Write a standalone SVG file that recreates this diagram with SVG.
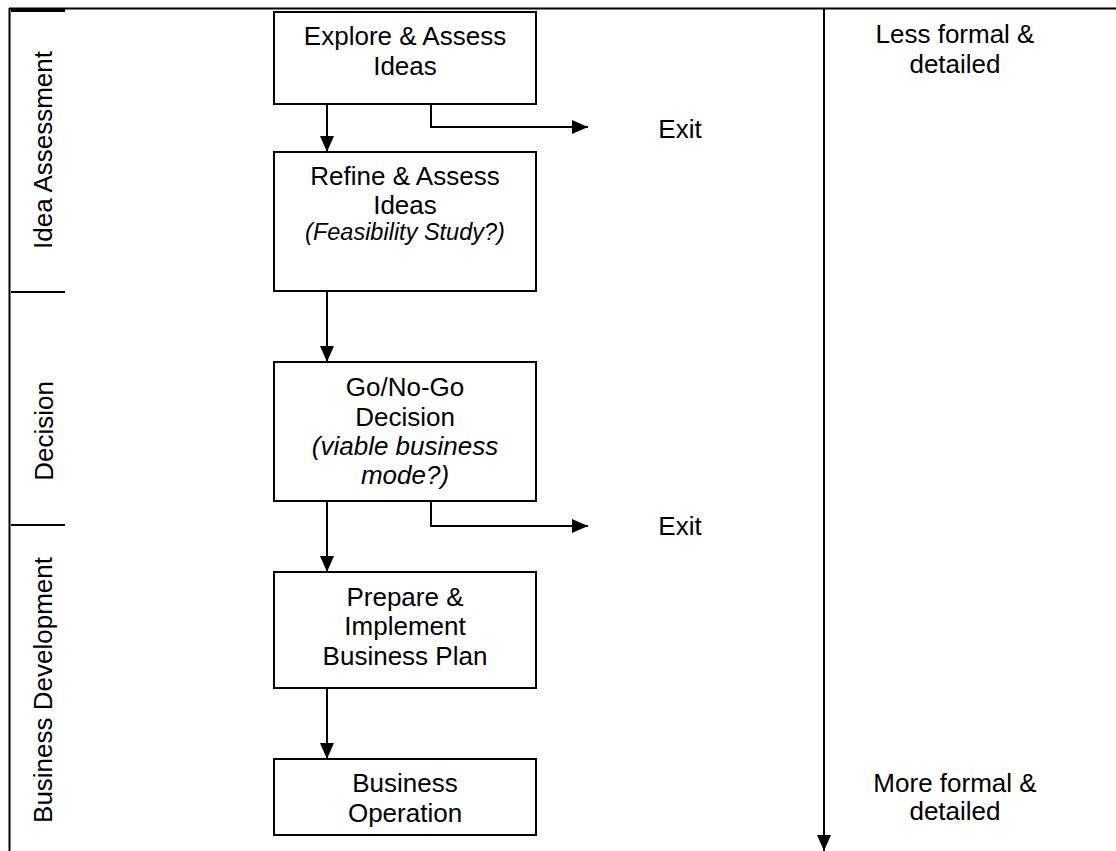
<svg xmlns="http://www.w3.org/2000/svg" width="1116" height="851" viewBox="0 0 1116 851">
<style>
.t{font-family:"Liberation Sans",Arial,sans-serif;font-size:26px;fill:#000;text-anchor:middle}
.i{font-style:italic}
.box{fill:#fff;stroke:#000;stroke-width:2}
.ln{stroke:#000;stroke-width:2;fill:none}
</style>
<defs>
<marker id="ah" viewBox="0 0 16 14" refX="16" refY="7" markerWidth="16" markerHeight="14" markerUnits="userSpaceOnUse" orient="auto">
<path d="M0,0 L16,7 L0,14 Z" fill="#000"/>
</marker>
</defs>
<g id="frame">
<line class="ln" x1="9" y1="8.5" x2="1116" y2="8.5"/>
<line class="ln" x1="9.5" y1="8" x2="9.5" y2="851"/>
<line x1="11" y1="10.5" x2="65" y2="10.5" stroke="#000" stroke-width="3"/>
<line class="ln" x1="11" y1="292" x2="65" y2="292"/>
<line class="ln" x1="11" y1="525" x2="65" y2="525"/>
</g>
<g id="lane-idea"><text class="t" transform="translate(52,150) rotate(-90)">Idea Assessment</text></g>
<g id="lane-decision"><text class="t" transform="translate(53,431) rotate(-90)">Decision</text></g>
<g id="lane-bizdev"><text class="t" transform="translate(52,690) rotate(-90)">Business Development</text></g>
<g id="connectors">
<line class="ln" x1="327" y1="104" x2="327" y2="152" marker-end="url(#ah)"/>
<line class="ln" x1="327" y1="291" x2="327" y2="362" marker-end="url(#ah)"/>
<line class="ln" x1="327" y1="501" x2="327" y2="572" marker-end="url(#ah)"/>
<line class="ln" x1="327" y1="688" x2="327" y2="759" marker-end="url(#ah)"/>
<polyline class="ln" points="431,104 431,127 588,127" marker-end="url(#ah)"/>
<polyline class="ln" points="431,501 431,526 588,526" marker-end="url(#ah)"/>
<line class="ln" x1="824" y1="8" x2="824" y2="851" marker-end="url(#ah)"/>
</g>
<g id="n1"><rect class="box" x="274" y="12" width="262" height="92"/>
<text class="t" x="405" y="45">Explore &amp; Assess</text>
<text class="t" x="405" y="75">Ideas</text></g>
<g id="n2"><rect class="box" x="274" y="152" width="262" height="139"/>
<text class="t" x="405" y="185">Refine &amp; Assess</text>
<text class="t" x="405" y="214">Ideas</text>
<text class="t i" x="405" y="240" style="font-size:23.5px">(Feasibility Study?)</text></g>
<g id="n3"><rect class="box" x="274" y="362" width="262" height="139"/>
<text class="t" x="405" y="396">Go/No-Go</text>
<text class="t" x="405" y="426">Decision</text>
<text class="t i" x="405" y="455">(viable business</text>
<text class="t i" x="405" y="484">mode?)</text></g>
<g id="n4"><rect class="box" x="274" y="572" width="262" height="116"/>
<text class="t" x="405" y="606">Prepare &amp;</text>
<text class="t" x="405" y="635">Implement</text>
<text class="t" x="405" y="665">Business Plan</text></g>
<g id="n5"><rect class="box" x="274" y="759" width="262" height="76"/>
<text class="t" x="405" y="792">Business</text>
<text class="t" x="405" y="822">Operation</text></g>
<g id="exit1"><text class="t" x="680" y="138">Exit</text></g>
<g id="exit2"><text class="t" x="680" y="535">Exit</text></g>
<g id="less"><text class="t" x="955" y="43">Less formal &amp;</text>
<text class="t" x="955" y="73">detailed</text></g>
<g id="more"><text class="t" x="955" y="792">More formal &amp;</text>
<text class="t" x="955" y="820">detailed</text></g>
</svg>
